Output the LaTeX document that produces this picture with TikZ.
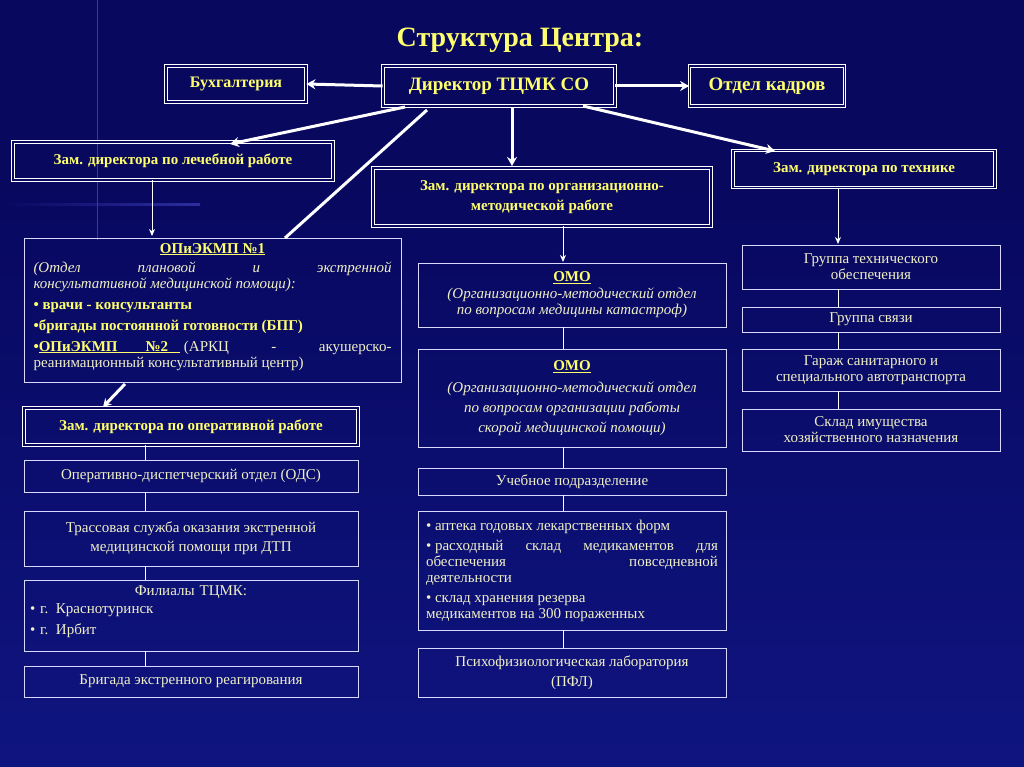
\documentclass[tikz,border=0pt]{standalone}
\usepackage{fontspec}
\setmainfont{Liberation Serif}
\usetikzlibrary{arrows.meta}
\definecolor{bgA}{RGB}{8,8,95}
\definecolor{bgB}{RGB}{20,30,150}
\definecolor{cream}{RGB}{240,240,200}
\definecolor{yel}{RGB}{255,255,110}
\begin{document}
\begin{tikzpicture}[x=1pt,y=-1pt,
 dbl/.style={draw=white,double=bgA,double distance=1.6pt,line width=0.8pt,text=yel,font=\bfseries\fontsize{15}{17}\selectfont,align=center,inner sep=2pt},
 sbox/.style={draw=white!85!blue,line width=0.8pt,text=cream,font=\fontsize{15}{16}\selectfont,align=center,inner sep=2pt},
 thick arrow/.style={draw=white,line width=3pt,-{Stealth[length=9pt,width=10pt]}},
 thin arrow/.style={draw=white,line width=1pt,-{Stealth[length=7pt,width=6pt]}},
 conn/.style={draw=white,line width=0.8pt}]
\useasboundingbox (0,0) rectangle (1024,767);
\fill[bgA] (0,0) rectangle (1024,767);
\shade[top color=bgA,bottom color=bgB,opacity=0.6] (0,180) rectangle (1024,767);
\draw[blue!50!white,line width=1pt,opacity=0.4] (97,0) -- (97,240);
\shade[left color=bgA,right color=blue!60!white,opacity=0.4] (0,204) rectangle (200,206);
\node[text=yel,font=\bfseries\fontsize{28}{30}\selectfont] (title) at (520,40) {Структура Центра:};
% top
\node[dbl,minimum width=140,minimum height=36,font=\bfseries\fontsize{16}{18}\selectfont] (buh) at (236,84) {Бухгалтерия};
\node[dbl,minimum width=232,minimum height=40,font=\bfseries\fontsize{19}{20}\selectfont] (dir) at (499,86) {Директор ТЦМК СО};
\node[dbl,minimum width=155,minimum height=40,font=\bfseries\fontsize{19}{20}\selectfont] (kad) at (767,86) {Отдел кадров};
\node[dbl,minimum width=320,minimum height=38] (lech) at (173,161) {Зам. директора по лечебной работе};
\node[dbl,minimum width=338,minimum height=58] (org) at (542,197) {Зам. директора по организационно-\\[3pt]методической работе};
\node[dbl,minimum width=262,minimum height=37] (teh) at (864,169) {Зам. директора по технике};
\draw[thick arrow] (dir.west) -- (buh.east);
\draw[thick arrow] (dir.east) -- (kad.west);
\coordinate (d1) at (405,107); \coordinate (l1) at (230,144);
\draw[thick arrow] (d1) -- (l1);
\coordinate (d2) at (512,107); \coordinate (o2) at (512,166);
\draw[thick arrow] (d2) -- (o2);
\coordinate (d3) at (583,106); \coordinate (t3) at (775,151);
\draw[thick arrow] (d3) -- (t3);
% left
\node[draw=white!85!blue,line width=0.8pt,minimum width=377,minimum height=144,anchor=north west,inner sep=0pt] (opi) at (24,238) {};
\node[text width=358,align=justify,text=cream,font=\fontsize{15}{16}\selectfont,anchor=north,inner sep=0pt] (opitext) at (212.5,243) {%
\hbox to 358pt{\hfil\bfseries\color{yel}\underline{ОПиЭКМП №1}\hfil}\par\vspace{3pt}
\itshape (Отдел\hfill плановой\hfill и\hfill экстренной\\ консультативной медицинской помощи):\par\vspace{5pt}
\upshape\bfseries\color{yel}• врачи - консультанты\par\vspace{5pt}
•бригады постоянной готовности (БПГ)\par\vspace{5pt}
\mdseries\color{cream}{\bfseries\color{yel}•\underline{ОПиЭКМП\hspace{28pt}№2\hspace{12pt}}}\ (АРКЦ\hfill -\hfill акушерско-\\реанимационный консультативный центр)\par};
\coordinate (d4) at (427,110); \coordinate (o4) at (285,238);
\draw[white,line width=3pt] (d4) -- (o4);
\draw[thin arrow] (152,180) -- (152,236);
\node[dbl,minimum width=334,minimum height=37] (oper) at (191,426.5) {Зам. директора по оперативной работе};
\draw[white,line width=3pt,-{Stealth[length=8pt,width=9pt]}] (125,384) -- (103,407);
\node[sbox,minimum width=334,minimum height=32] (ods) at (191,476) {Оперативно-диспетчерский отдел (ОДС)};
\node[sbox,minimum width=334,minimum height=55] (tras) at (191,538.5) {Трассовая служба оказания экстренной\\[3pt] медицинской помощи при ДТП};
\node[sbox,minimum width=334,minimum height=71,align=left,text width=322] (fil) at (191,615.5) {\hbox to 322pt{\hfil Филиалы ТЦМК:\hfil}\par\vspace{2pt}• г. Краснотуринск\par\vspace{5pt}• г. Ирбит\par\vspace{8pt}};
\node[sbox,minimum width=334,minimum height=31] (brig) at (191,681.5) {Бригада экстренного реагирования};
\draw[conn] (145,445) -- (ods.north -| 145,0);
\draw[conn] (ods.south -| 145,0) -- (tras.north -| 145,0);
\draw[conn] (tras.south -| 145,0) -- (fil.north -| 145,0);
\draw[conn] (fil.south -| 145,0) -- (brig.north -| 145,0);
% middle
\draw[thin arrow] (563,226) -- (563,262);
\node[sbox,minimum width=308,minimum height=64] (omo1) at (572,295) {{\bfseries\color{yel}\underline{ОМО}}\\[1pt]\itshape (Организационно-методический отдел\\ \itshape по вопросам медицины катастроф)};
\node[sbox,minimum width=308,minimum height=98] (omo2) at (572,398) {{\bfseries\color{yel}\underline{ОМО}}\\[6pt]\itshape (Организационно-методический отдел\\[4pt] \itshape по вопросам организации работы\\[4pt] \itshape скорой медицинской помощи)};
\node[sbox,minimum width=308,minimum height=27] (ucheb) at (572,481.5) {Учебное подразделение};
\node[sbox,minimum width=308,minimum height=119,text width=292,align=justify] (apt) at (572,570.5) {• аптека годовых лекарственных форм\par\vspace{4pt}
• расходный\hfill склад\hfill медикаментов\hfill для\\ обеспечения\hfill повседневной\\ деятельности\par\vspace{4pt}
• склад хранения резерва\\ медикаментов на 300 пораженных};
\node[sbox,minimum width=308,minimum height=49] (pfl) at (572,672.5) {Психофизиологическая лаборатория\\[4pt] (ПФЛ)};
\draw[conn] (omo1.south -| 563,0) -- (omo2.north -| 563,0);
\draw[conn] (omo2.south -| 563,0) -- (ucheb.north -| 563,0);
\draw[conn] (ucheb.south -| 563,0) -- (apt.north -| 563,0);
\draw[conn] (apt.south -| 563,0) -- (pfl.north -| 563,0);
% right
\node[sbox,minimum width=258,minimum height=44] (gto) at (871,267) {Группа технического\\ обеспечения};
\node[sbox,minimum width=258,minimum height=25] (gsv) at (871,319.5) {Группа связи};
\node[sbox,minimum width=258,minimum height=42] (gar) at (871,370) {Гараж санитарного и\\ специального автотранспорта};
\node[sbox,minimum width=258,minimum height=42] (skl) at (871,430) {Склад имущества\\ хозяйственного назначения};
\draw[thin arrow] (838,188) -- (838,244);
\draw[conn] (gto.south -| 838,0) -- (gsv.north -| 838,0);
\draw[conn] (gsv.south -| 838,0) -- (gar.north -| 838,0);
\draw[conn] (gar.south -| 838,0) -- (skl.north -| 838,0);
\end{tikzpicture}
\end{document}
